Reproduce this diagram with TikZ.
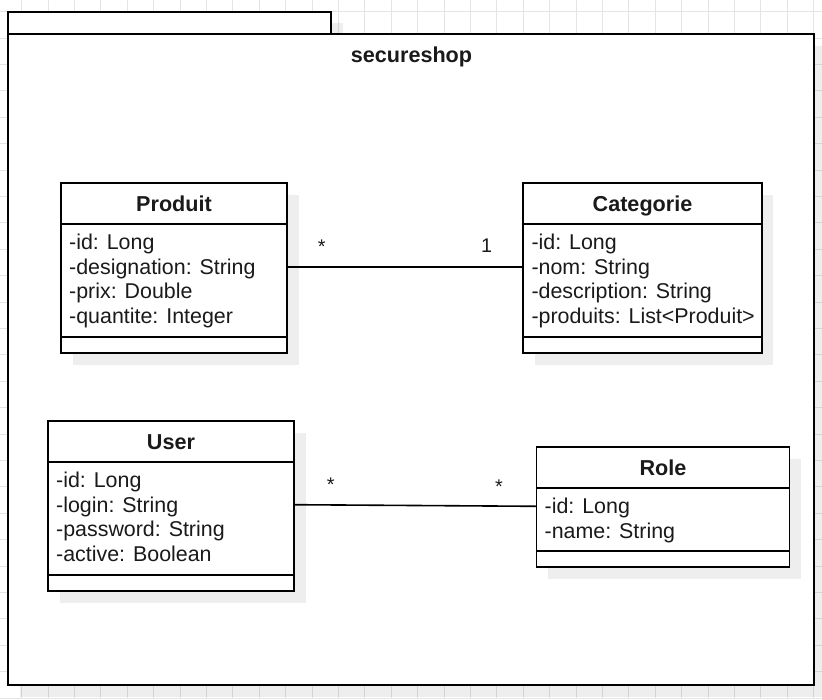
\documentclass[tikz,border=0pt]{standalone}
\usepackage{fontspec}
\setmainfont{Liberation Sans}
\usetikzlibrary{shadows}
\definecolor{gridc}{RGB}{228,228,228}
\definecolor{ink}{RGB}{26,26,26}
\tikzset{
  shd/.style={drop shadow={shadow xshift=11.5pt, shadow yshift=-11.5pt, fill=black, opacity=0.065}},
  frame/.style={draw=black, line width=2pt, fill=white, shd, anchor=north west, inner sep=0pt, outer sep=0pt},
  classbox/.style={draw=black, line width=1.8pt, fill=white, shd, anchor=north west, inner sep=0pt, outer sep=0pt},
  sepline/.style={draw=black, line width=1.8pt},
  attr/.style={font=\fontsize{21.4}{24.5}\selectfont, text=ink, anchor=base west, inner sep=0pt},
  ctitle/.style={font=\fontsize{21.6}{24.5}\selectfont\bfseries, text=ink, anchor=base, inner sep=0pt},
  lbl/.style={font=\fontsize{19.8}{22}\selectfont, text=ink, anchor=base, inner sep=0pt},
  conn/.style={draw=black, line width=1.6pt},
  gridline/.style={draw=gridc, line width=1pt},
}
\newcommand{\umlclass}[6]{%
  \pgfmathsetmacro{\hh}{41+13+25*#4+16}
  \node[classbox, minimum width=#3pt, minimum height=\hh pt] (#1) at #2 {};
  \draw[sepline] ([yshift=-41pt]#1.north west) -- ([yshift=-41pt]#1.north east);
  \draw[sepline] ([yshift=16pt]#1.south west) -- ([yshift=16pt]#1.south east);
  \node[ctitle] (#1-title) at ([yshift=-28pt]#1.north) {#5};
  \foreach \t [count=\i] in {#6} {
    \node[attr] (#1-a\i) at ([xshift=8pt,yshift={-66.5pt-24.5pt*(\i-1)}]#1.north west) {\t};
  }
}
\begin{document}
\begin{tikzpicture}[x=1pt, y=-1pt]
\useasboundingbox (0,0) rectangle (822,699);
\fill[white] (0,0) rectangle (822,699);
% grid
\foreach \k in {0,...,30} \draw[gridline] ({21.7+26.4*\k},0) -- ({21.7+26.4*\k},699);
\foreach \k in {0,...,26} \draw[gridline] (0,{11.7+26.4*\k}) -- (822,{11.7+26.4*\k});
% package
\node[frame, minimum width=323pt, minimum height=22.3pt] (tab) at (8,11.7) {};
\node[frame, minimum width=806pt, minimum height=651pt] (pkg) at (8,34) {};
\node[ctitle] (pkgtitle) at (411.5,62.7) {secureshop};
% classes
\umlclass{produit}{(61,183)}{226}{4}{Produit}{-id: Long, -designation: String, -prix: Double, -quantite: Integer}
\umlclass{categorie}{(523.3,183)}{238.4}{4}{Categorie}{-id: Long, -nom: String, -description: String, -produits: List<Produit>}
\umlclass{user}{(48,421)}{246}{4}{User}{-id: Long, -login: String, -password: String, -active: Boolean}
\umlclass{role}{(536.5,447)}{253}{2}{Role}{-id: Long, -name: String}
% connectors
\draw[conn] ([yshift=1pt]produit.east) -- ([yshift=1pt]categorie.west);
\node[lbl] (m1) at (321.7,253) {*};
\node[lbl] (m2) at (486.7,252.7) {1};
\draw[conn] ([yshift=1.3pt]user.east) -- ([yshift=0.7pt]role.west);
\node[lbl] (m3) at (330.7,491.5) {*};
\node[lbl] (m4) at (499,493) {*};
\end{tikzpicture}
\end{document}
